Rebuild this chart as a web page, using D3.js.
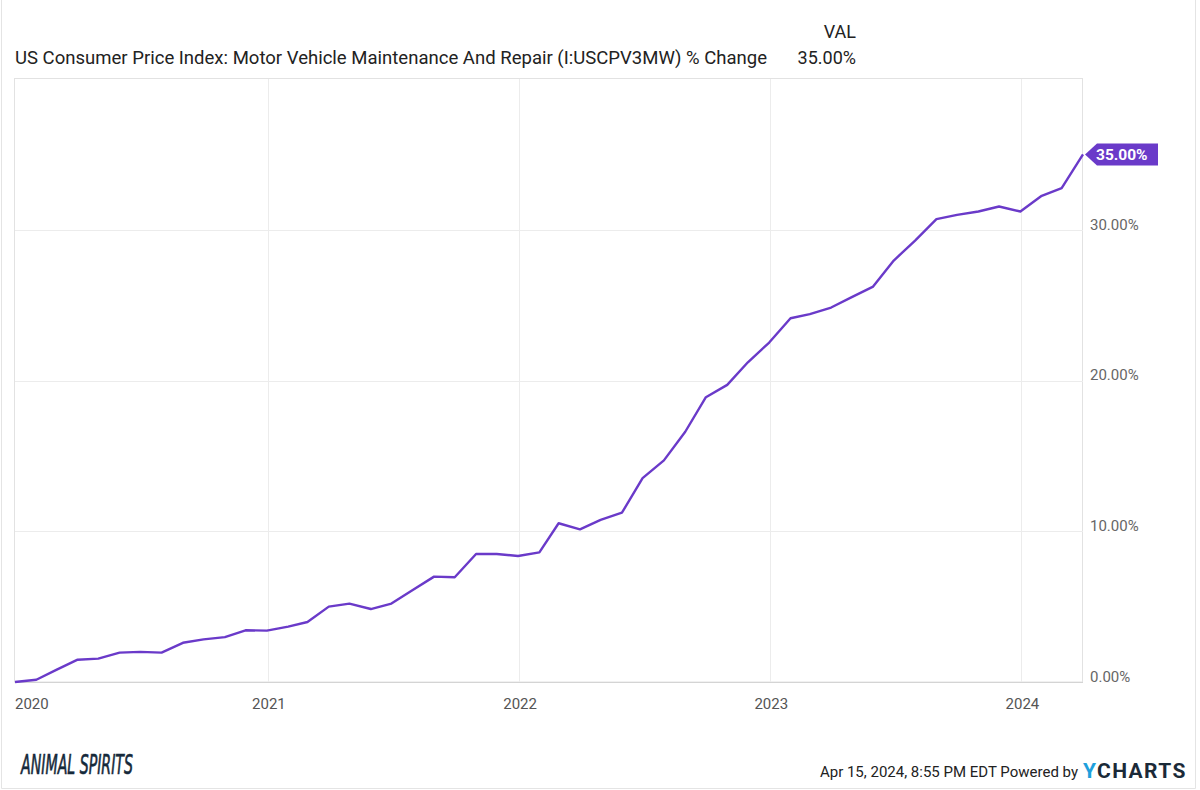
<!DOCTYPE html>
<html>
<head>
<meta charset="utf-8">
<script src="https://cdn.jsdelivr.net/npm/d3@7"></script>
<style>
  body { margin: 0; background: #fff; }
  svg { display: block; font-family: Roboto, sans-serif; }
</style>
</head>
<body>
<div id="chart"></div>
<script>
// Monthly data points (month-end dates)
var months = [
    '2019-12-31',
    '2020-01-31', '2020-02-29', '2020-03-31', '2020-04-30', '2020-05-31', '2020-06-30',
    '2020-07-31', '2020-08-31', '2020-09-30', '2020-10-31', '2020-11-30', '2020-12-31',
    '2021-01-31', '2021-02-28', '2021-03-31', '2021-04-30', '2021-05-31', '2021-06-30',
    '2021-07-31', '2021-08-31', '2021-09-30', '2021-10-31', '2021-11-30', '2021-12-31',
    '2022-01-31', '2022-02-28', '2022-03-31', '2022-04-30', '2022-05-31', '2022-06-30',
    '2022-07-31', '2022-08-31', '2022-09-30', '2022-10-31', '2022-11-30', '2022-12-31',
    '2023-01-31', '2023-02-28', '2023-03-31', '2023-04-30', '2023-05-31', '2023-06-30',
    '2023-07-31', '2023-08-31', '2023-09-30', '2023-10-31', '2023-11-30', '2023-12-31',
    '2024-01-31', '2024-02-29', '2024-03-31'
];

// % change since start
var values = [
    0,
    0.15, 0.8, 1.48, 1.55, 1.95, 2.0, 1.95, 2.6, 2.83, 2.98, 3.43, 3.41,
    3.67, 3.98, 5.0, 5.2, 4.84, 5.2, 6.1, 6.99, 6.95, 8.49, 8.49, 8.36,
    8.6, 10.53, 10.13, 10.75, 11.23, 13.52, 14.7, 16.6, 18.89, 19.71, 21.21, 22.52,
    24.13, 24.4, 24.84, 25.53, 26.23, 27.96, 29.28, 30.7, 30.99, 31.21, 31.54, 31.21,
    32.25, 32.76, 35.0
];

var yTicks = [0, 10, 20, 30];
var xTickYears = ['2020', '2021', '2022', '2023', '2024'];

var seriesName = 'US Consumer Price Index: Motor Vehicle Maintenance And Repair (I:USCPV3MW) % Change';
var lastLabel = '35.00%';

var svgWidth = 1200;
var svgHeight = 790;

var plot = { left: 15, right: 1083, top: 79, bottom: 682 };
var purple = '#6a3ac9';

var parseDate = d3.timeParse('%Y-%m-%d');
var parseYear = d3.timeParse('%Y');

var data = months.map((m, i) => ({ date: parseDate(m), value: values[i] }));

var svg = d3.select('#chart')
    .append('svg')
    .attr('width', svgWidth)
    .attr('height', svgHeight);

// Outer frame
svg.append('path')
    .attr('d', `M1.5,0 V${svgHeight - 1.5} H${svgWidth - 4.5} V0`)
    .attr('fill', 'none')
    .attr('stroke', '#e4e4e4')
    .attr('stroke-width', 1);

// Scales
var xScale = d3.scaleTime()
    .domain(d3.extent(data, (d) => d.date))
    .range([plot.left, plot.right]);

var yScale = d3.scaleLinear()
    .domain([0, 40])
    .range([plot.bottom, plot.top]);

// Plot border
svg.append('rect')
    .attr('x', plot.left - 0.5)
    .attr('y', plot.top - 0.5)
    .attr('width', plot.right - plot.left)
    .attr('height', plot.bottom - plot.top + 0.5)
    .attr('fill', 'none')
    .attr('stroke', '#e2e2e2');

// Grid lines
svg.append('g')
    .selectAll('line')
    .data(yTicks.slice(1))
    .enter()
    .append('line')
    .attr('x1', plot.left)
    .attr('x2', plot.right)
    .attr('y1', (d) => Math.round(yScale(d)) + 0.5)
    .attr('y2', (d) => Math.round(yScale(d)) + 0.5)
    .attr('stroke', '#ececec');

svg.append('g')
    .selectAll('line')
    .data(xTickYears.slice(1))
    .enter()
    .append('line')
    .attr('x1', (d) => Math.round(xScale(parseYear(d))) + 0.5)
    .attr('x2', (d) => Math.round(xScale(parseYear(d))) + 0.5)
    .attr('y1', plot.top)
    .attr('y2', plot.bottom)
    .attr('stroke', '#ececec');

// Bottom axis
var bottomAxis = d3.axisBottom(xScale)
    .tickValues(xTickYears.map((y) => parseYear(y)))
    .tickFormat(d3.timeFormat('%Y'))
    .tickSize(0)
    .tickPadding(16);

var xAxis = svg.append('g')
    .attr('transform', `translate(0, ${plot.bottom + 0.5})`)
    .call(bottomAxis);

xAxis.select('.domain')
    .attr('d', `M${plot.left},0 H${plot.right}`)
    .attr('stroke', '#d4d4d4');

xAxis.selectAll('text')
    .attr('text-anchor', 'start')
    .attr('x', (d, i) => i === 0 ? 0 : -16)
    .attr('font-family', 'Roboto, sans-serif')
    .attr('font-size', 15)
    .attr('fill', '#555');

xAxis.selectAll('.tick').filter((d, i) => i === 0)
    .attr('transform', `translate(${plot.left}, 0)`);

// Right axis labels
var rightAxis = d3.axisRight(yScale)
    .tickValues(yTicks)
    .tickFormat((d) => d3.format('.2f')(d) + '%')
    .tickSize(0)
    .tickPadding(7);

var yAxis = svg.append('g')
    .attr('transform', `translate(${plot.right}, 0)`)
    .call(rightAxis);

yAxis.select('.domain').remove();

yAxis.selectAll('text')
    .attr('dy', '-0.05em')
    .attr('font-family', 'Roboto, sans-serif')
    .attr('font-size', 15)
    .attr('fill', '#666');

// Line
var line = d3.line()
    .x((d) => xScale(d.date))
    .y((d) => yScale(d.value));

svg.append('path')
    .datum(data)
    .attr('d', line)
    .attr('fill', 'none')
    .attr('stroke', purple)
    .attr('stroke-width', 2.4)
    .attr('stroke-linejoin', 'round');

// Last value tag
var last = data[data.length - 1];
var tx = xScale(last.date);
var ty = yScale(last.value);

svg.append('path')
    .attr('d', `M${tx + 2},${ty} L${tx + 14},${ty - 11} H${tx + 75} V${ty + 11} H${tx + 14} Z`)
    .attr('fill', purple);

svg.append('text')
    .attr('x', tx + 13)
    .attr('y', ty + 5.5)
    .attr('font-size', 15.5)
    .attr('font-weight', 'bold')
    .attr('fill', '#fff')
    .text(lastLabel);

// Header
svg.append('text')
    .attr('x', 856)
    .attr('y', 38)
    .attr('text-anchor', 'end')
    .attr('font-size', 18)
    .attr('fill', '#222')
    .text('VAL');

svg.append('text')
    .attr('x', 15)
    .attr('y', 64)
    .attr('font-size', 18)
    .attr('fill', '#222')
    .attr('textLength', 752)
    .attr('lengthAdjust', 'spacingAndGlyphs')
    .text(seriesName);

svg.append('text')
    .attr('x', 856)
    .attr('y', 64)
    .attr('text-anchor', 'end')
    .attr('font-size', 18)
    .attr('fill', '#222')
    .text(lastLabel);

// Footer: logo and source
svg.append('text')
    .attr('x', 21)
    .attr('y', 774)
    .attr('font-family', '"Liberation Sans Narrow", "DejaVu Sans Condensed", sans-serif')
    .attr('font-size', 27)
    .attr('font-style', 'italic')
    .attr('fill', '#15293a')
    .attr('stroke', '#15293a')
    .attr('stroke-width', 0.6)
    .attr('textLength', 112)
    .attr('lengthAdjust', 'spacingAndGlyphs')
    .text('ANIMAL SPIRITS');

svg.append('text')
    .attr('x', 1078)
    .attr('y', 777)
    .attr('text-anchor', 'end')
    .attr('font-size', 15)
    .attr('fill', '#222')
    .text('Apr 15, 2024, 8:55 PM EDT Powered by');

var ycharts = svg.append('text')
    .attr('x', 1083)
    .attr('y', 778)
    .attr('font-size', 21)
    .attr('font-weight', 'bold')
    .attr('letter-spacing', 1.5)
    .attr('textLength', 104)
    .attr('lengthAdjust', 'spacing');

ycharts.append('tspan')
    .attr('fill', '#1ea0dc')
    .text('Y');

ycharts.append('tspan')
    .attr('fill', '#1b2a38')
    .text('CHARTS');
</script>
</body>
</html>
